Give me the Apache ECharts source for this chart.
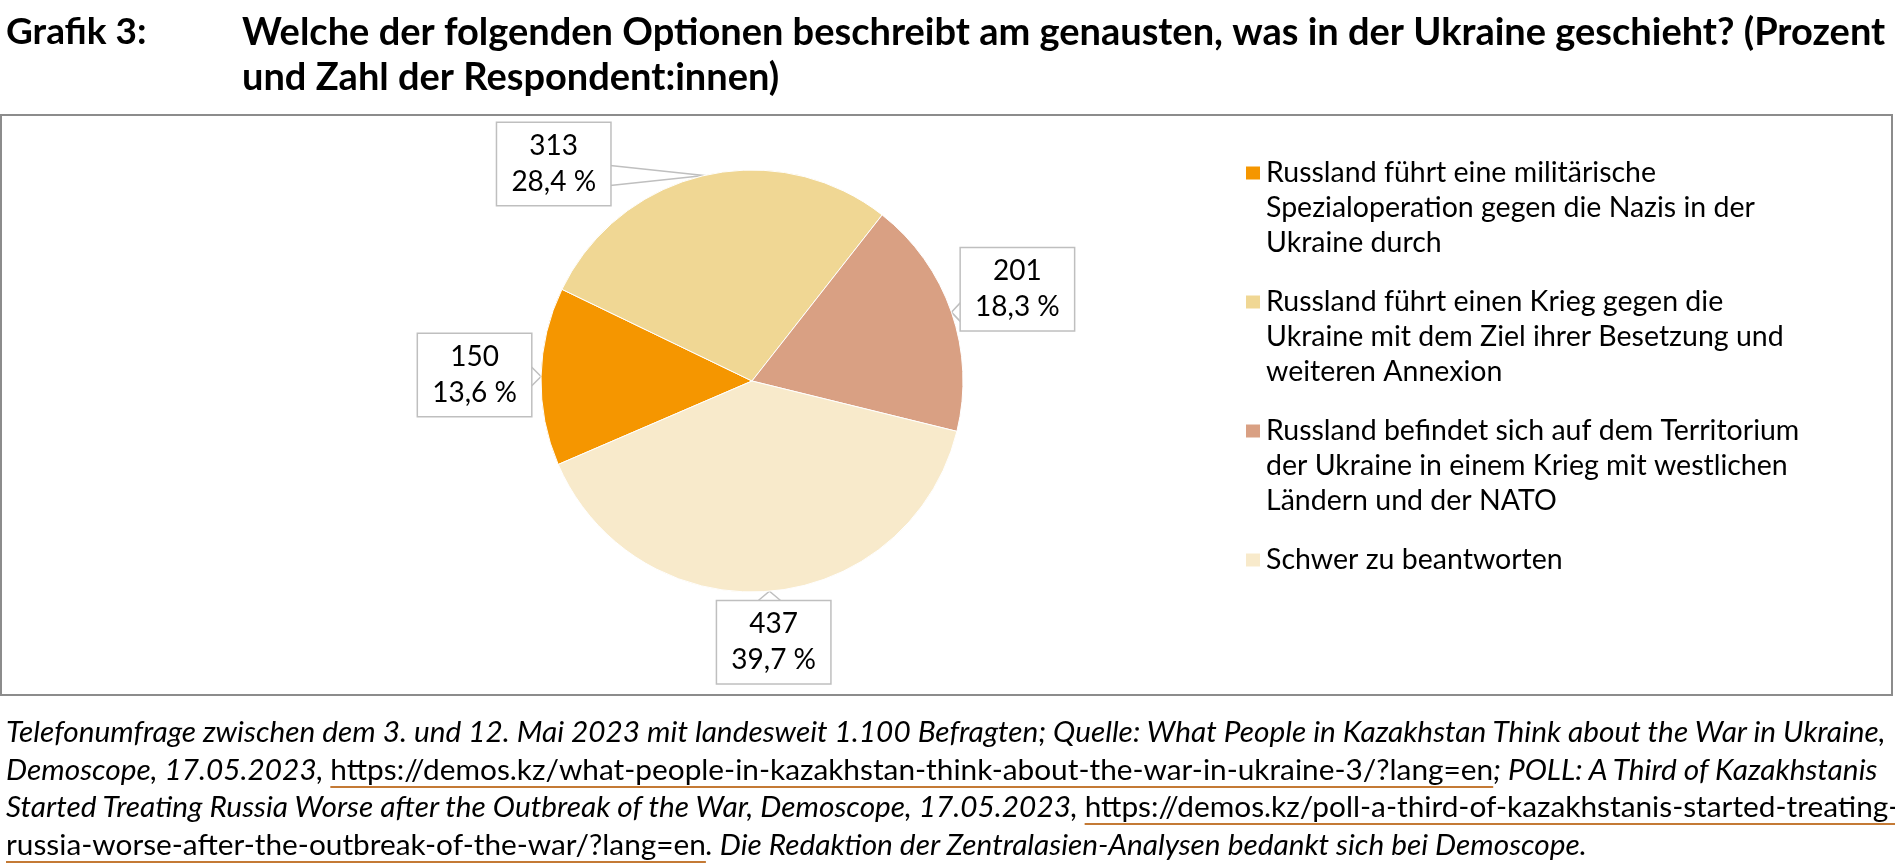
<!DOCTYPE html>
<html>
<head>
<meta charset="utf-8">
<script src="https://cdn.jsdelivr.net/npm/echarts@6/dist/echarts.min.js"></script>
<style>
  html, body { margin: 0; padding: 0; background: #fff; }
  #wrap { position: relative; width: 1895px; height: 865px; overflow: hidden; }
  #chart { position: absolute; left: 0; top: 0; width: 1895px; height: 865px; }
  #note {
    position: absolute; left: 6px; top: 712px; white-space: nowrap;
    font-family: Lato, sans-serif; font-style: italic; font-size: 29.8px; line-height: 37.5px; color: #000;
  }
  #note .u {
    font-style: normal; text-decoration: underline; text-decoration-color: #C47A35;
    text-decoration-thickness: 1.5px; text-underline-offset: 6px;
  }
</style>
</head>
<body>
<div id="wrap">
  <div id="chart"></div>
  <div id="note">Telefonumfrage zwischen dem 3. und 12. Mai 2023 mit landesweit 1.100 Befragten; Quelle: What People in Kazakhstan Think about the War in Ukraine,<br>Demoscope, 17.05.2023, <span class="u">https://demos.kz/what-people-in-kazakhstan-think-about-the-war-in-ukraine-3/?lang=en</span>; POLL: A Third of Kazakhstanis<br>Started Treating Russia Worse after the Outbreak of the War, Demoscope, 17.05.2023, <span class="u">https://demos.kz/poll-a-third-of-kazakhstanis-started-treating-</span><br><span class="u">russia-worse-after-the-outbreak-of-the-war/?lang=en</span>. Die Redaktion der Zentralasien-Analysen bedankt sich bei Demoscope.</div>
</div>
<script>
// ---- data ----
const categories = [
  'Russland führt eine militärische\nSpezialoperation gegen die Nazis in der\nUkraine durch',
  'Russland führt einen Krieg gegen die\nUkraine mit dem Ziel ihrer Besetzung und\nweiteren Annexion',
  'Russland befindet sich auf dem Territorium\nder Ukraine in einem Krieg mit westlichen\nLändern und der NATO',
  'Schwer zu beantworten'
];
const values = [150, 313, 201, 437];
const palette = ['#F59600', '#F0D794', '#D9A083', '#F8EACB'];
const titleLabel = 'Grafik 3:';
const titleText = 'Welche der folgenden Optionen beschreibt am genausten, was in der Ukraine geschieht? (Prozent\nund Zahl der Respondent:innen)';

// ---- layout constants ----
const CX = 752, CY = 381, R = 211, START = 203.3;
const FRAME = { x: 1, y: 115, w: 1891, h: 580 };
const LBL_W = 97, LBL_PADH = 8, LBL_PADV = 5, LBL_LH = 36;
const BOX_W = LBL_W + 2 * LBL_PADH, BOX_H = 2 * LBL_LH + 2 * LBL_PADV;
const GAP = 10;

const total = values.reduce((s, v) => s + v, 0);
const midAngles = [];
{
  let cum = 0;
  values.forEach(v => { midAngles.push(START - 360 * (cum + v / 2) / total); cum += v; });
}

const maxLines = Math.max(...categories.map(c => c.split('\n').length));
function legendText(name) {
  const n = name.split('\n').length;
  return '\n'.repeat(maxLines - 1) + name + '\n'.repeat(maxLines - n);
}

function layoutLabel(p) {
  const a = midAngles[p.dataIndex] * Math.PI / 180;
  const ux = Math.cos(a), uy = -Math.sin(a);
  const ex = CX + R * ux, ey = CY + R * uy;
  const hw = BOX_W / 2, hh = BOX_H / 2;
  const d = Math.min(Math.abs(ux) > 1e-6 ? hw / Math.abs(ux) : 1e9, Math.abs(uy) > 1e-6 ? hh / Math.abs(uy) : 1e9);
  let bx = ex + ux * (GAP + d), by = ey + uy * (GAP + d);
  if (by - hh < FRAME.y + 8) {
    by = FRAME.y + 8 + hh;
    const dyc = CY - (by + hh);
    const need = R + 15;
    const dxc = Math.sqrt(Math.max(0, need * need - dyc * dyc));
    bx = ux < 0 ? CX - dxc - hw : CX + dxc + hw;
  }
  const tdx = ex - bx, tdy = ey - by;
  let pts;
  if (Math.abs(tdx) / hw >= Math.abs(tdy) / hh) {
    const sx = bx + Math.sign(tdx) * hw;
    const yy = Math.min(Math.max(ey, by - hh + 12), by + hh - 12);
    pts = [[sx, yy - 10], [ex, ey], [sx, yy + 10]];
  } else {
    const sy = by + Math.sign(tdy) * hh;
    const xx = Math.min(Math.max(ex, bx - hw + 12), bx + hw - 12);
    pts = [[xx - 12, sy], [ex, ey], [xx + 12, sy]];
  }
  return { x: bx, y: by, align: 'center', verticalAlign: 'middle', labelLinePoints: pts };
}

const chart = echarts.init(document.getElementById('chart'), null, { renderer: 'canvas' });
chart.setOption({
  animation: false,
  color: palette,
  title: [
    { text: titleLabel, left: 6, top: 10, padding: 0,
      textStyle: { fontFamily: 'Lato', fontWeight: 'bold', fontSize: 37, lineHeight: 45, color: '#000' } },
    { text: titleText, left: 242, top: 10, padding: 0,
      textStyle: { fontFamily: 'Lato', fontWeight: 'bold', fontSize: 38, lineHeight: 45, color: '#000' } }
  ],
  graphic: [{
    type: 'rect', silent: true, z: -1,
    shape: { x: FRAME.x, y: FRAME.y, width: FRAME.w, height: FRAME.h },
    style: { fill: '#fff', stroke: '#8C8C8C', lineWidth: 2 }
  }],
  legend: {
    orient: 'vertical', left: 1244, top: 173 - 87.5, padding: 0,
    itemWidth: 16, itemHeight: 15, itemGap: -46, icon: 'rect',
    selectedMode: false,
    data: categories,
    formatter: legendText,
    textStyle: { fontFamily: 'Lato', fontSize: 28.5, lineHeight: 35, color: '#000' }
  },
  series: [{
    type: 'pie',
    center: [CX, CY], radius: R, startAngle: START, clockwise: true,
    avoidLabelOverlap: false,
    itemStyle: { borderColor: '#fff', borderWidth: 1 },
    emphasis: { disabled: true },
    label: {
      show: true, position: 'outside',
      formatter: p => p.value + '\n' + p.percent.toFixed(1).replace('.', ',') + ' %',
      fontFamily: 'Lato', fontSize: 28, lineHeight: LBL_LH, color: '#000',
      width: LBL_W, align: 'center',
      backgroundColor: '#fff', borderColor: '#BFBFBF', borderWidth: 1.5,
      padding: [LBL_PADV, LBL_PADH]
    },
    labelLine: { show: true, lineStyle: { color: '#BFBFBF', width: 1.5 } },
    labelLayout: layoutLabel,
    data: categories.map((c, i) => ({ name: c, value: values[i] }))
  }]
});
</script>
</body>
</html>
